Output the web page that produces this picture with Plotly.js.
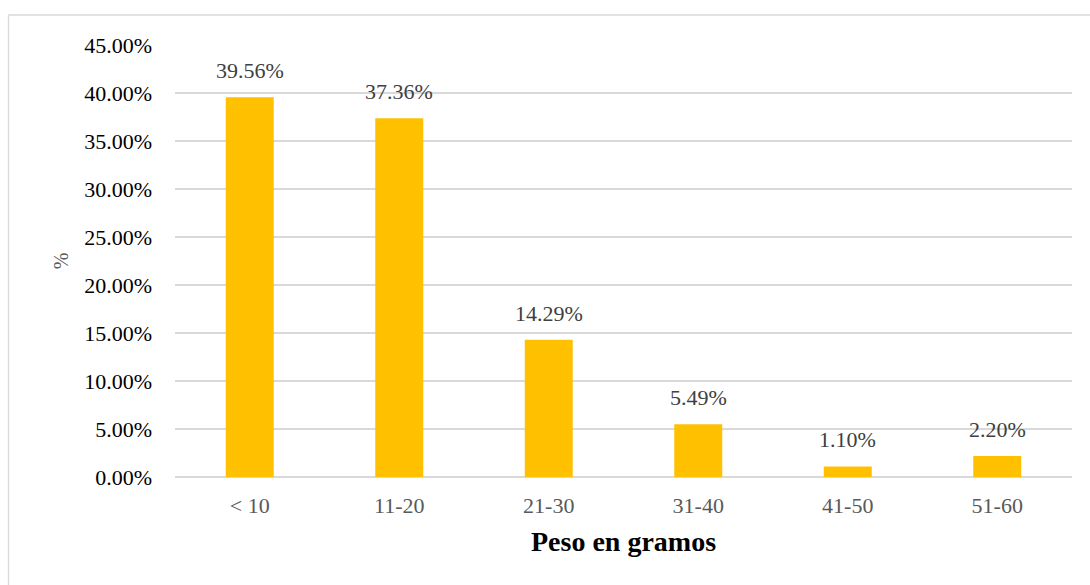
<!DOCTYPE html>
<html>
<head>
<meta charset="utf-8">
<script src="https://cdn.plot.ly/plotly-3.0.1.min.js"></script>
<style>
  html, body { margin: 0; padding: 0; background: #ffffff; }
  #chart { width: 1090px; height: 585px; }
</style>
</head>
<body>
<div id="chart"></div>
<script>
// Weight classes (grams) and share of samples in each class (%)
const categories = ['< 10', '11-20', '21-30', '31-40', '41-50', '51-60'];
const shares = [39.56, 37.36, 14.29, 5.49, 1.10, 2.20];
const yTicks = [0, 5, 10, 15, 20, 25, 30, 35, 40, 45];

const W = 1090, H = 585;
const margin = { l: 175, r: 18, t: 45, b: 108, pad: 0 };
const plotW = W - margin.l - margin.r;
const plotH = H - margin.t - margin.b;

// Light frame around the chart area (runs past the right and bottom edges)
const frameLeft = (8.5 - margin.l) / plotW;
const frameTop = (H - margin.b - 15) / plotH;

const serif = '"Liberation Serif", "Times New Roman", serif';

const trace = {
  type: 'bar',
  x: categories,
  y: shares,
  marker: { color: '#FFC000', line: { width: 0 } },
  hoverinfo: 'x+y'
};

const labels = categories.map((c, i) => ({
  x: c,
  y: shares[i],
  xref: 'x',
  yref: 'y',
  text: shares[i].toFixed(2) + '%',
  showarrow: false,
  yanchor: 'bottom',
  yshift: 12,
  font: { family: serif, size: 22, color: '#404040' }
}));

const layout = {
  width: W,
  height: H,
  margin: margin,
  paper_bgcolor: '#ffffff',
  plot_bgcolor: '#ffffff',
  showlegend: false,
  bargap: 0.679,
  xaxis: {
    type: 'category',
    showgrid: false,
    zeroline: false,
    showline: false,
    ticks: '',
    ticklabelstandoff: 13,
    tickfont: { family: serif, size: 22, color: '#595959' },
    title: {
      text: '<b>Peso en gramos</b>',
      font: { family: serif, size: 28, color: '#000000' },
      standoff: 14
    }
  },
  yaxis: {
    range: [0, 45],
    tickvals: yTicks,
    ticktext: yTicks.map(v => v.toFixed(2) + '%'),
    showgrid: true,
    gridcolor: '#d9d9d9',
    gridwidth: 1.3,
    zeroline: true,
    zerolinecolor: '#d9d9d9',
    zerolinewidth: 1.3,
    showline: false,
    ticks: '',
    ticklabelstandoff: 22,
    tickfont: { family: serif, size: 22, color: '#000000' },
    title: {
      text: '%',
      font: { family: serif, size: 20, color: '#595959' },
      standoff: 10
    }
  },
  annotations: labels,
  shapes: [{
    type: 'rect',
    xref: 'paper',
    yref: 'paper',
    x0: frameLeft,
    x1: 1.2,
    y0: -0.5,
    y1: frameTop,
    line: { color: '#d9d9d9', width: 1.3 },
    fillcolor: 'rgba(0,0,0,0)',
    layer: 'below'
  }]
};

Plotly.newPlot('chart', [trace], layout, { displayModeBar: false, staticPlot: true });
</script>
</body>
</html>
